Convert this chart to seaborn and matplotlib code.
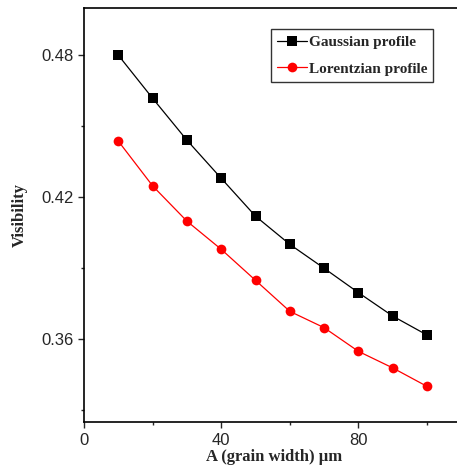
import numpy as np
import pandas as pd
import matplotlib.pyplot as plt
import seaborn as sns
from matplotlib.ticker import MultipleLocator

# grain width (um)
width = [10, 20, 30, 40, 50, 60, 70, 80, 90, 100]
gaussian = [0.480, 0.4618, 0.4441, 0.428, 0.412, 0.4001, 0.3900, 0.3797, 0.3698, 0.3618]
lorentzian = [0.4437, 0.4248, 0.4099, 0.3980, 0.3849, 0.3718, 0.3649, 0.3549, 0.3479, 0.3401]
series = ['Gaussian profile', 'Lorentzian profile']

df = pd.DataFrame({
    'width': width * 2,
    'visibility': gaussian + lorentzian,
    'profile': [series[0]] * len(width) + [series[1]] * len(width),
})

sns.set_style('ticks')
plt.rcParams['font.family'] = ['Liberation Sans', 'DejaVu Sans']

fig = plt.figure(figsize=(4.57, 4.68), dpi=100)
ax = fig.add_axes([0.184, 0.098, 0.83, 0.885])

sns.lineplot(data=df, x='width', y='visibility', hue='profile', style='profile',
             markers={series[0]: 's', series[1]: 'o'}, dashes=False,
             palette={series[0]: 'black', series[1]: 'red'},
             markersize=7, linewidth=0.9, markeredgewidth=0, ax=ax)

ax.set_xlim(0, 110.6)
ax.set_ylim(0.325, 0.50)
ax.xaxis.set_major_locator(MultipleLocator(40))
ax.xaxis.set_minor_locator(MultipleLocator(20))
ax.yaxis.set_minor_locator(MultipleLocator(0.03))
ax.set_yticks([0.36, 0.42, 0.48])
ax.set_yticklabels(['0.36', '0.42', '0.48'])
ax.tick_params(axis='both', which='major', labelsize=12, length=4, width=1, direction='out')
ax.tick_params(axis='both', which='minor', length=2.5, width=1, direction='out')

for s in ax.spines.values():
    s.set_linewidth(1.2)
    s.set_color('black')
ax.spines['right'].set_visible(False)

serif = ['Liberation Serif', 'DejaVu Serif']
ax.set_xlabel('A (grain width) μm', fontsize=12, fontweight='bold', family=serif, labelpad=1)
ax.set_ylabel('Visibility', fontsize=12, fontweight='bold', family=serif, labelpad=10)

leg = ax.legend(loc='upper right', bbox_to_anchor=(0.941, 0.967), frameon=True,
                fancybox=False, edgecolor='black', handlelength=2.0, handletextpad=0.1,
                borderpad=0.4, labelspacing=0.85,
                prop={'family': serif, 'weight': 'bold', 'size': 11})
leg.get_frame().set_linewidth(1.0)

fig.savefig('out.png', dpi=100)
